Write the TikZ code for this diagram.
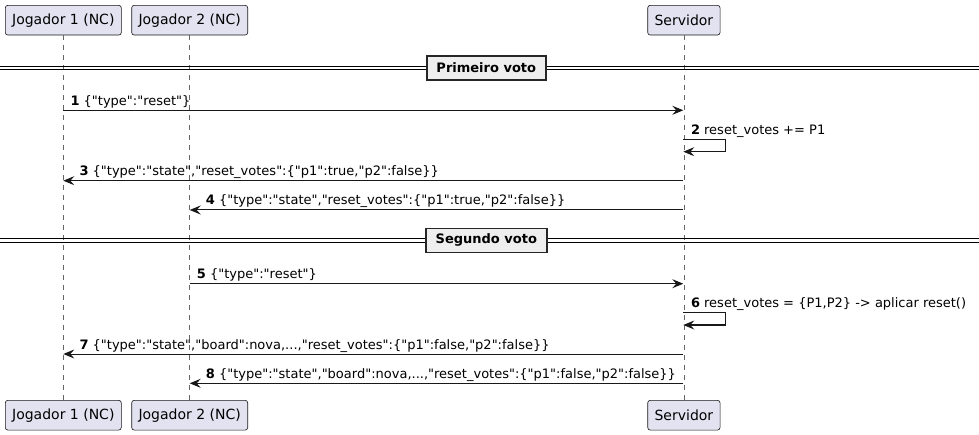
\documentclass[tikz,border=0pt]{standalone}
\usepackage{fontspec}
\setmainfont{DejaVu Sans}[Ligatures=TeXOff]
\usetikzlibrary{arrows.meta}
\definecolor{partfill}{HTML}{E2E2F0}
\definecolor{partline}{HTML}{181818}
\definecolor{divfill}{HTML}{EEEEEE}
\begin{document}
\begin{tikzpicture}[x=1pt,y=-1pt,
  part/.style={draw=partline, fill=partfill, line width=0.6pt, rounded corners=2.5pt,
    font=\fontsize{14}{16}\selectfont, minimum height=29.7pt, inner sep=0pt},
  lifeline/.style={draw=black!60, line width=0.6pt, dash pattern=on 5pt off 5pt},
  msgarrow/.style={draw=partline, line width=1pt, -{Stealth[length=11pt,width=9pt,inset=4pt]}},
  msgtext/.style={font=\fontsize{13}{15}\selectfont, anchor=base west, inner sep=0pt},
  divbox/.style={draw=black!85, fill=divfill, line width=1.4pt, font=\fontsize{13}{15}\selectfont\bfseries,
    minimum width=119pt, minimum height=24pt, inner sep=0pt},
  divline/.style={draw=black, line width=1pt}]
\useasboundingbox (0,0) rectangle (979,435);
% participants
\node[part, minimum width=116pt] (p1t) at (63.3,20.2) {Jogador 1 (NC)};
\node[part, minimum width=116pt] (p2t) at (189.7,20.2) {Jogador 2 (NC)};
\node[part, minimum width=72.3pt] (svt) at (683.9,20.2) {Servidor};
\node[part, minimum width=116pt] (p1b) at (63.3,415.2) {Jogador 1 (NC)};
\node[part, minimum width=116pt] (p2b) at (189.7,415.2) {Jogador 2 (NC)};
\node[part, minimum width=72.3pt] (svb) at (683.9,415.2) {Servidor};
% lifelines
\draw[lifeline] (p1t.south) -- (p1b.north);
\draw[lifeline] (p2t.south) -- (p2b.north);
\draw[lifeline] (svt.south) -- (svb.north);
% divider 1
\coordinate (d1l) at (0,67.9);
\coordinate (d1r) at (979,67.9);
\draw[divline] ([yshift=-1.75pt]d1l) -- ([yshift=-1.75pt]d1r);
\draw[divline] ([yshift=1.75pt]d1l) -- ([yshift=1.75pt]d1r);
\node[divbox] (div1) at (486.3,67.9) {Primeiro voto};
% divider 2
\coordinate (d2l) at (0,240.3);
\coordinate (d2r) at (979,240.3);
\draw[divline] ([yshift=-1.75pt]d2l) -- ([yshift=-1.75pt]d2r);
\draw[divline] ([yshift=1.75pt]d2l) -- ([yshift=1.75pt]d2r);
\node[divbox, minimum width=121pt] (div2) at (486.3,240.3) {Segundo voto};
% message endpoints
\coordinate (m1a) at (63.3,110.3);  \coordinate (m1b) at (683.3,110.3);
\coordinate (m2a) at (683.3,139.5); \coordinate (m2r1) at (725,139.5);
\coordinate (m2r2) at (725,151.7);  \coordinate (m2b) at (683.3,151.7);
\coordinate (m3a) at (683.3,180.7); \coordinate (m3b) at (63.3,180.7);
\coordinate (m4a) at (683.3,210);   \coordinate (m4b) at (189.7,210);
\coordinate (m5a) at (189.7,283.7); \coordinate (m5b) at (683.3,283.7);
\coordinate (m6a) at (683.3,312.3); \coordinate (m6r1) at (725,312.3);
\coordinate (m6r2) at (725,325);    \coordinate (m6b) at (683.3,325);
\coordinate (m7a) at (683.3,354);   \coordinate (m7b) at (63.3,354);
\coordinate (m8a) at (683.3,383.3); \coordinate (m8b) at (189.7,383.3);
% messages
\draw[msgarrow] (m1a) -- (m1b);
\node[msgtext] (t1) at (70.3,105.3) {\textbf{1} \{"type":"reset"\}};
\draw[msgarrow] (m2a) -- (m2r1) -- (m2r2) -- (m2b);
\node[msgtext] (t2) at (690.8,134.9) {\textbf{2} reset\_votes += P1};
\draw[msgarrow] (m3a) -- (m3b);
\node[msgtext] (t3) at (79.3,175.7) {\textbf{3} \{"type":"state","reset\_votes":\{"p1":true,"p2":false\}\}};
\draw[msgarrow] (m4a) -- (m4b);
\node[msgtext] (t4) at (205.7,205) {\textbf{4} \{"type":"state","reset\_votes":\{"p1":true,"p2":false\}\}};
\draw[msgarrow] (m5a) -- (m5b);
\node[msgtext] (t5) at (196.7,278.7) {\textbf{5} \{"type":"reset"\}};
\draw[msgarrow] (m6a) -- (m6r1) -- (m6r2) -- (m6b);
\node[msgtext] (t6) at (690.8,307.7) {\textbf{6} reset\_votes = \{P1,P2\} -> aplicar reset()};
\draw[msgarrow] (m7a) -- (m7b);
\node[msgtext] (t7) at (79.3,349) {\textbf{7} \{"type":"state","board":nova,...,"reset\_votes":\{"p1":false,"p2":false\}\}};
\draw[msgarrow] (m8a) -- (m8b);
\node[msgtext] (t8) at (205.7,378.3) {\textbf{8} \{"type":"state","board":nova,...,"reset\_votes":\{"p1":false,"p2":false\}\}};
\end{tikzpicture}
\end{document}
